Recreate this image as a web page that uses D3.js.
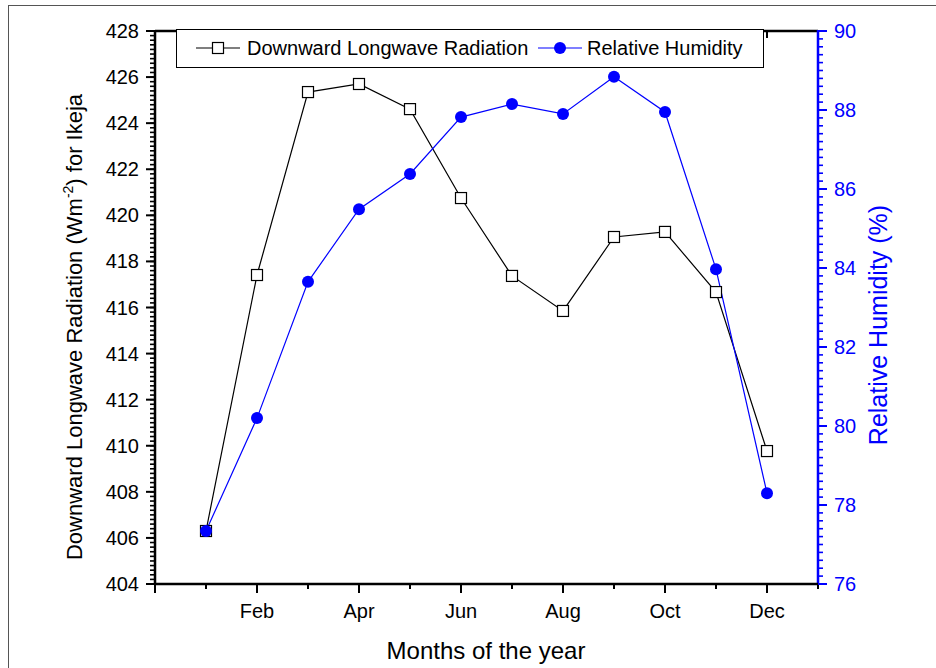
<!DOCTYPE html>
<html>
<head>
<meta charset="utf-8">
<script src="https://d3js.org/d3.v7.min.js"></script>
<style>
  body { margin: 0; background: #fff; }
  svg text { font-family: "Liberation Sans", Arial, sans-serif; }
</style>
</head>
<body>
<svg width="936" height="668"></svg>
<script>
// month index 1..12
const months = [1, 2, 3, 4, 5, 6, 7, 8, 9, 10, 11, 12];
const dlr = [406.30, 417.41, 425.35, 425.70, 424.61, 420.75, 417.37, 415.85, 419.06, 419.28, 416.67, 409.77];
const rh = [77.34, 80.20, 83.65, 85.49, 86.38, 87.82, 88.15, 87.90, 88.84, 87.95, 83.97, 78.30];
const monthLabels = {2: 'Feb', 4: 'Apr', 6: 'Jun', 8: 'Aug', 10: 'Oct', 12: 'Dec'};
const leftTicks = [404, 406, 408, 410, 412, 414, 416, 418, 420, 422, 424, 426, 428];
const rightTicks = [76, 78, 80, 82, 84, 86, 88, 90];

const svg = d3.select('svg');
const L = 155, R = 818, T = 31, B = 584;
const blue = '#0000ff';

// outer frame
svg.append('rect').attr('x', 8.5).attr('y', 5.5).attr('width', 940).attr('height', 700)
  .attr('fill', 'none').attr('stroke', '#555').attr('stroke-width', 1);

const x = d3.scaleLinear().domain([0, 13]).range([L, R]);
const yL = d3.scaleLinear().domain([404, 428]).range([B, T]);
const yR = d3.scaleLinear().domain([76, 90]).range([B, T]);

// bottom axis
const xMinor = d3.range(1, 14, 2);
const xMajor = d3.range(0, 13, 2);
const bx = svg.append('g');
bx.selectAll('line.minor').data(xMinor).enter().append('line')
  .attr('x1', d => x(d)).attr('x2', d => x(d)).attr('y1', B).attr('y2', B + 5)
  .attr('stroke', '#000').attr('stroke-width', 2);
bx.selectAll('line.major').data(xMajor).enter().append('line')
  .attr('x1', d => x(d)).attr('x2', d => x(d)).attr('y1', B).attr('y2', B + 9)
  .attr('stroke', '#000').attr('stroke-width', 2);
bx.selectAll('text').data(xMajor.filter(d => monthLabels[d])).enter().append('text')
  .attr('x', d => x(d)).attr('y', 618).attr('text-anchor', 'middle')
  .attr('font-size', 20).attr('fill', '#000').text(d => monthLabels[d]);

// top axis (inward major ticks)
svg.selectAll('line.topt').data(xMajor).enter().append('line')
  .attr('x1', d => x(d)).attr('x2', d => x(d)).attr('y1', T).attr('y2', T + 7)
  .attr('stroke', '#000').attr('stroke-width', 2);
svg.append('line').attr('x1', L).attr('x2', R).attr('y1', T).attr('y2', T)
  .attr('stroke', '#000').attr('stroke-width', 2.5);

// left axis
const lMinor = d3.range(404, 428.01, 0.2);
const lg = svg.append('g');
lg.selectAll('line.m').data(lMinor).enter().append('line')
  .attr('x1', L - 5).attr('x2', L).attr('y1', d => yL(d)).attr('y2', d => yL(d))
  .attr('stroke', '#000').attr('stroke-width', 1.6);
lg.selectAll('line.M').data(leftTicks).enter().append('line')
  .attr('x1', L - 9).attr('x2', L).attr('y1', d => yL(d)).attr('y2', d => yL(d))
  .attr('stroke', '#000').attr('stroke-width', 2);
lg.selectAll('text').data(leftTicks).enter().append('text')
  .attr('x', 139).attr('y', d => yL(d) + 7).attr('text-anchor', 'end')
  .attr('font-size', 20).attr('fill', '#000').text(d => d);

// right axis
const rMinor = d3.range(76, 90.01, 0.2);
const rg = svg.append('g');
rg.selectAll('line.m').data(rMinor).enter().append('line')
  .attr('x1', R).attr('x2', R + 5).attr('y1', d => yR(d)).attr('y2', d => yR(d))
  .attr('stroke', blue).attr('stroke-width', 1.6);
rg.selectAll('line.M').data(rightTicks).enter().append('line')
  .attr('x1', R).attr('x2', R + 9).attr('y1', d => yR(d)).attr('y2', d => yR(d))
  .attr('stroke', blue).attr('stroke-width', 2);
rg.selectAll('text').data(rightTicks).enter().append('text')
  .attr('x', 834).attr('y', d => yR(d) + 7).attr('text-anchor', 'start')
  .attr('font-size', 20).attr('fill', blue).text(d => d);

svg.append('line').attr('x1', L).attr('x2', L).attr('y1', T - 1).attr('y2', B + 1)
  .attr('stroke', '#000').attr('stroke-width', 2.5);
svg.append('line').attr('x1', R).attr('x2', R).attr('y1', T - 1).attr('y2', B + 1)
  .attr('stroke', blue).attr('stroke-width', 2.5);
svg.append('line').attr('x1', L).attr('x2', R).attr('y1', B).attr('y2', B)
  .attr('stroke', '#000').attr('stroke-width', 2.5);

// series
const dlrData = months.map((m, i) => ({m, v: dlr[i]}));
const rhData = months.map((m, i) => ({m, v: rh[i]}));

svg.append('path').datum(dlrData)
  .attr('d', d3.line().x(d => x(d.m)).y(d => yL(d.v)))
  .attr('fill', 'none').attr('stroke', '#000').attr('stroke-width', 1.2);
svg.append('path').datum(rhData)
  .attr('d', d3.line().x(d => x(d.m)).y(d => yR(d.v)))
  .attr('fill', 'none').attr('stroke', blue).attr('stroke-width', 1.2);

svg.selectAll('rect.sq').data(dlrData).enter().append('rect')
  .attr('x', d => x(d.m) - 5.5).attr('y', d => yL(d.v) - 5.5)
  .attr('width', 11).attr('height', 11)
  .attr('fill', '#fff').attr('stroke', '#000').attr('stroke-width', 1.2);
svg.selectAll('circle.rh').data(rhData).enter().append('circle')
  .attr('cx', d => x(d.m)).attr('cy', d => yR(d.v)).attr('r', 6)
  .attr('fill', blue);

// legend
const leg = svg.append('g');
leg.append('rect').attr('x', 176.5).attr('y', 29.5).attr('width', 587).attr('height', 38)
  .attr('fill', '#fff').attr('stroke', '#000').attr('stroke-width', 1);
leg.append('line').attr('x1', 196).attr('x2', 240).attr('y1', 48).attr('y2', 48)
  .attr('stroke', '#000').attr('stroke-width', 1.2);
leg.append('rect').attr('x', 212.5).attr('y', 42.5).attr('width', 11).attr('height', 11)
  .attr('fill', '#fff').attr('stroke', '#000').attr('stroke-width', 1.2);
leg.append('text').attr('x', 247).attr('y', 55).attr('font-size', 20).attr('fill', '#000')
  .text('Downward Longwave Radiation');
leg.append('line').attr('x1', 538).attr('x2', 582).attr('y1', 48).attr('y2', 48)
  .attr('stroke', blue).attr('stroke-width', 1.2);
leg.append('circle').attr('cx', 560).attr('cy', 48).attr('r', 6).attr('fill', blue);
leg.append('text').attr('x', 587).attr('y', 55).attr('font-size', 20).attr('fill', '#000')
  .text('Relative Humidity');

// axis titles
svg.append('text').attr('x', 486).attr('y', 659).attr('text-anchor', 'middle')
  .attr('font-size', 24).attr('fill', '#000').text('Months of the year');

const lt = svg.append('text').attr('transform', 'translate(82,327) rotate(-90)')
  .attr('text-anchor', 'middle').attr('font-size', 22).attr('fill', '#000');
lt.append('tspan').text('Downward Longwave Radiation (Wm');
lt.append('tspan').attr('font-size', 14).attr('dy', -9).text('-2');
lt.append('tspan').attr('dy', 9).text(') for Ikeja');

svg.append('text').attr('transform', 'translate(887,325) rotate(-90)')
  .attr('text-anchor', 'middle').attr('font-size', 25).attr('fill', blue)
  .text('Relative Humidity (%)');
</script>
</body>
</html>
